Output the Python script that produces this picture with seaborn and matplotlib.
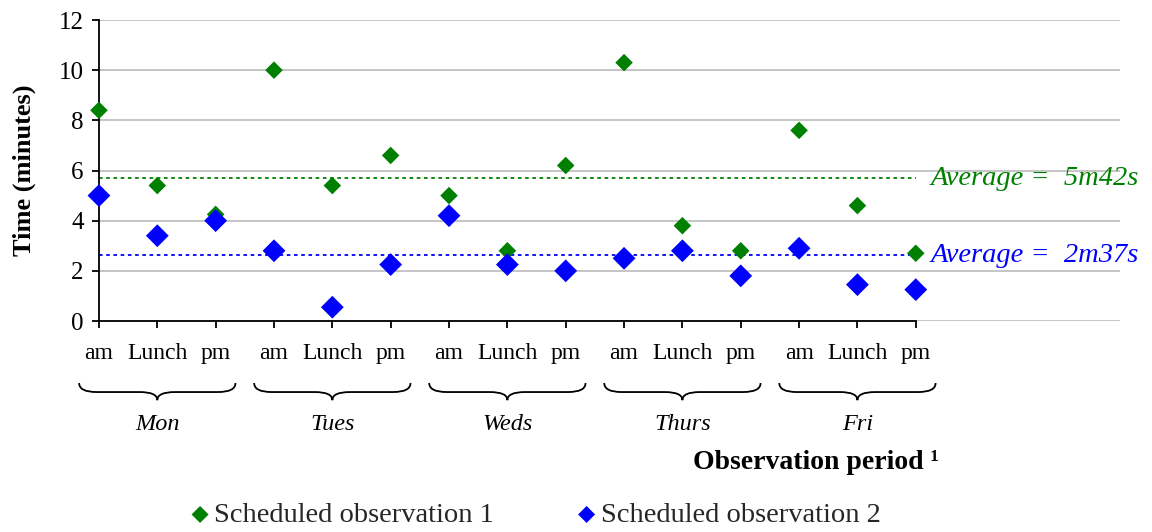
import pandas as pd
import matplotlib
matplotlib.use('Agg')
import matplotlib.pyplot as plt
from matplotlib.path import Path
from matplotlib.patches import PathPatch
import seaborn as sns

# values (minutes)
days = ['Mon', 'Tues', 'Weds', 'Thurs', 'Fri']
periods = ['am', 'Lunch', 'pm']
obs1 = [8.4, 5.4, 4.25, 10.0, 5.4, 6.6, 5.0, 2.8, 6.2, 10.3, 3.8, 2.8, 7.6, 4.6, 2.7]
obs2 = [5.0, 3.4, 4.0, 2.8, 0.55, 2.25, 4.2, 2.25, 2.0, 2.5, 2.8, 1.8, 2.9, 1.45, 1.25]
avg_values = [5 + 42 / 60, 2 + 37 / 60]
avg_labels = ['Average =  5m42s', 'Average =  2m37s']
series_names = ['Scheduled observation 1', 'Scheduled observation 2']
colors = ['#008000', '#0000FF']

df = pd.DataFrame({
    'pos': range(len(obs1)),
    'day': [d for d in days for _ in periods],
    'period': periods * len(days),
    'obs1': obs1,
    'obs2': obs2,
})

sns.set_theme(style='white')
plt.rcParams['font.family'] = ['Liberation Serif', 'DejaVu Sans']

fig, ax = plt.subplots(figsize=(11.52, 5.32), dpi=100)
fig.subplots_adjust(left=0.0859, right=0.9722, bottom=0.3966, top=0.9624)

sns.scatterplot(data=df, x='pos', y='obs1', marker='D', s=80, color=colors[0],
                edgecolor='none', label=series_names[0], ax=ax, clip_on=False, zorder=3)
sns.scatterplot(data=df, x='pos', y='obs2', marker='D', s=135, color=colors[1],
                edgecolor='none', label=series_names[1], ax=ax, clip_on=False, zorder=4)

ax.set_ylim(0, 12)
ax.set_yticks(range(0, 13, 2))
ax.set_xlim(0, 17.5)
ax.set_xticks(df['pos'])
ax.set_xticklabels(df['period'])
ax.grid(axis='y', color='#c0c0c0', lw=1.3)
ax.set_axisbelow(True)

for s in ['top', 'right']:
    ax.spines[s].set_visible(False)
for s in ['left', 'bottom']:
    ax.spines[s].set_color('black')
    ax.spines[s].set_linewidth(1.3)
ax.spines['bottom'].set_bounds(0, 14)

ax.tick_params(axis='both', direction='out', length=5, width=1.3, color='black',
               labelcolor='black', bottom=True, left=True)
ax.tick_params(axis='x', pad=11, labelsize=17)
ax.tick_params(axis='y', pad=6, labelsize=18)

ax.set_xlabel('')
ax.set_ylabel('Time (minutes)', fontsize=19, fontweight='bold', color='black')
ax.yaxis.set_label_coords(-0.062, 0.5)

# average lines
for val, lab, c in zip(avg_values, avg_labels, colors):
    ax.hlines(val, 0, 14, colors=c, linestyles=(0, (2, 2)), lw=1.3, zorder=2)
    ax.text(14.25, val, lab, color=c, style='italic', fontsize=20.5, va='center', ha='left')

# curly braces under each day
trans = ax.get_xaxis_transform()
y_top, y_mid, y_tip = -0.206, -0.236, -0.263
r = 0.3
for i, d in enumerate(days):
    xc = i * 3 + 1
    x0, x1 = xc - 1.34, xc + 1.34
    verts = [(x0, y_top), (x0, y_mid), (x0 + r, y_mid),
             (xc - r, y_mid),
             (xc, y_mid), (xc, y_tip),
             (xc, y_mid), (xc + r, y_mid),
             (x1 - r, y_mid),
             (x1, y_mid), (x1, y_top)]
    codes = [Path.MOVETO, Path.CURVE3, Path.CURVE3,
             Path.LINETO,
             Path.CURVE3, Path.CURVE3,
             Path.CURVE3, Path.CURVE3,
             Path.LINETO,
             Path.CURVE3, Path.CURVE3]
    ax.add_patch(PathPatch(Path(verts, codes), transform=trans, fill=False,
                           lw=1.3, edgecolor='black', clip_on=False))
    ax.text(xc, -0.345, d, transform=trans, ha='center', va='center',
            style='italic', fontsize=17.5, color='black')

fig.text(0.708, 0.13, 'Observation period \u00b9', ha='center', va='center',
         fontsize=20, fontweight='bold', color='black')

handles, labels = ax.get_legend_handles_labels()
ax.get_legend().remove()
leg = fig.legend(handles, labels, loc='center', bbox_to_anchor=(0.466, 0.032), ncol=2,
                 frameon=False, fontsize=20.5, handlelength=0.5, handletextpad=0.25,
                 columnspacing=3.0)
for h in leg.legend_handles:
    h.set_sizes([75])

fig.savefig('out.png', dpi=100)
